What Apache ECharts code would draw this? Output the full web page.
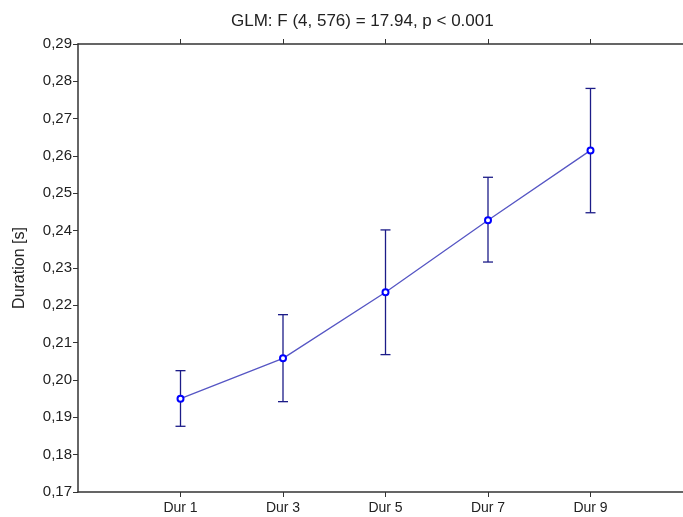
<!DOCTYPE html>
<html>
<head>
<meta charset="utf-8">
<script src="https://cdn.jsdelivr.net/npm/echarts@6/dist/echarts.min.js"></script>
<style>
    html,body{margin:0;padding:0;background:#fff;}
    #main{width:683px;height:517px;}
</style>
</head>
<body>
<div id="main"></div>
<script>
// categories (empty slots at both ends keep the gaps next to the frame)
var categories = ['', 'Dur 1', 'Dur 3', 'Dur 5', 'Dur 7', 'Dur 9', ''];
var means = [null, 0.1950, 0.2058, 0.2235, 0.2428, 0.2615, null];
var lower = [null, 0.1876, 0.1942, 0.2068, 0.2316, 0.2448, null];
var upper = [null, 0.2025, 0.2175, 0.2402, 0.2543, 0.2781, null];

var errData = [];
for (var i = 0; i < categories.length; i++) {
    if (means[i] != null) {
        errData.push([i, lower[i], upper[i]]);
    }
}

var myChart = echarts.init(document.getElementById('main'));
var font = 'Liberation Sans, Arial, sans-serif';

function skipEdge(index, value) {
    return value !== '';
}

var option = {
    animation: false,
    title: {
        text: 'GLM: F (4, 576) = 17.94, p < 0.001',
        left: 226,
        top: 8,
        textStyle: {
            fontFamily: font,
            fontSize: 17,
            fontWeight: 'normal',
            color: '#222'
        }
    },
    grid: {
        left: 78,
        width: 615,
        top: 44,
        bottom: 25,
        outerBoundsMode: 'none'
    },
    xAxis: [
        {
            type: 'category',
            data: categories,
            boundaryGap: false,
            position: 'bottom',
            axisLine: {lineStyle: {color: '#333', width: 1.5}},
            axisTick: {
                interval: skipEdge,
                length: 5,
                lineStyle: {color: '#333'}
            },
            axisLabel: {
                interval: skipEdge,
                fontFamily: font,
                fontSize: 14,
                color: '#222',
                margin: 9
            },
            splitLine: {show: false}
        },
        {
            type: 'category',
            data: categories,
            boundaryGap: false,
            position: 'top',
            axisLine: {lineStyle: {color: '#333', width: 1.5}},
            axisTick: {
                interval: skipEdge,
                length: 5,
                lineStyle: {color: '#333'}
            },
            axisLabel: {show: false},
            splitLine: {show: false}
        }
    ],
    yAxis: {
        type: 'value',
        min: 0.17,
        max: 0.29,
        interval: 0.01,
        name: 'Duration [s]',
        nameLocation: 'middle',
        nameGap: 50,
        nameTextStyle: {
            fontFamily: font,
            fontSize: 16,
            color: '#222'
        },
        axisLine: {show: true, lineStyle: {color: '#333', width: 1.5}},
        axisTick: {show: true, length: 5, lineStyle: {color: '#333'}},
        axisLabel: {
            fontFamily: font,
            fontSize: 15,
            color: '#222',
            margin: 6,
            formatter: function (v) {
                return v.toFixed(2).replace('.', ',');
            }
        },
        splitLine: {show: false}
    },
    series: [
        {
            type: 'custom',
            name: 'error',
            z: 2,
            renderItem: function (params, api) {
                var x = api.value(0);
                var lo = api.coord([x, api.value(1)]);
                var hi = api.coord([x, api.value(2)]);
                var hw = 5;
                var style = {stroke: '#1c1c88', lineWidth: 1.3, fill: null};
                return {
                    type: 'group',
                    children: [
                        {type: 'line', shape: {x1: hi[0], y1: hi[1], x2: lo[0], y2: lo[1]}, style: style},
                        {type: 'line', shape: {x1: hi[0] - hw, y1: hi[1], x2: hi[0] + hw, y2: hi[1]}, style: style},
                        {type: 'line', shape: {x1: lo[0] - hw, y1: lo[1], x2: lo[0] + hw, y2: lo[1]}, style: style}
                    ]
                };
            },
            encode: {x: 0, y: [1, 2]},
            data: errData
        },
        {
            type: 'line',
            name: 'mean',
            z: 3,
            data: means,
            connectNulls: false,
            symbol: 'emptyCircle',
            symbolSize: 6,
            lineStyle: {color: '#5656c4', width: 1.3},
            itemStyle: {color: '#0000ff', borderWidth: 1.3}
        }
    ]
};

myChart.setOption(option);
</script>
</body>
</html>
